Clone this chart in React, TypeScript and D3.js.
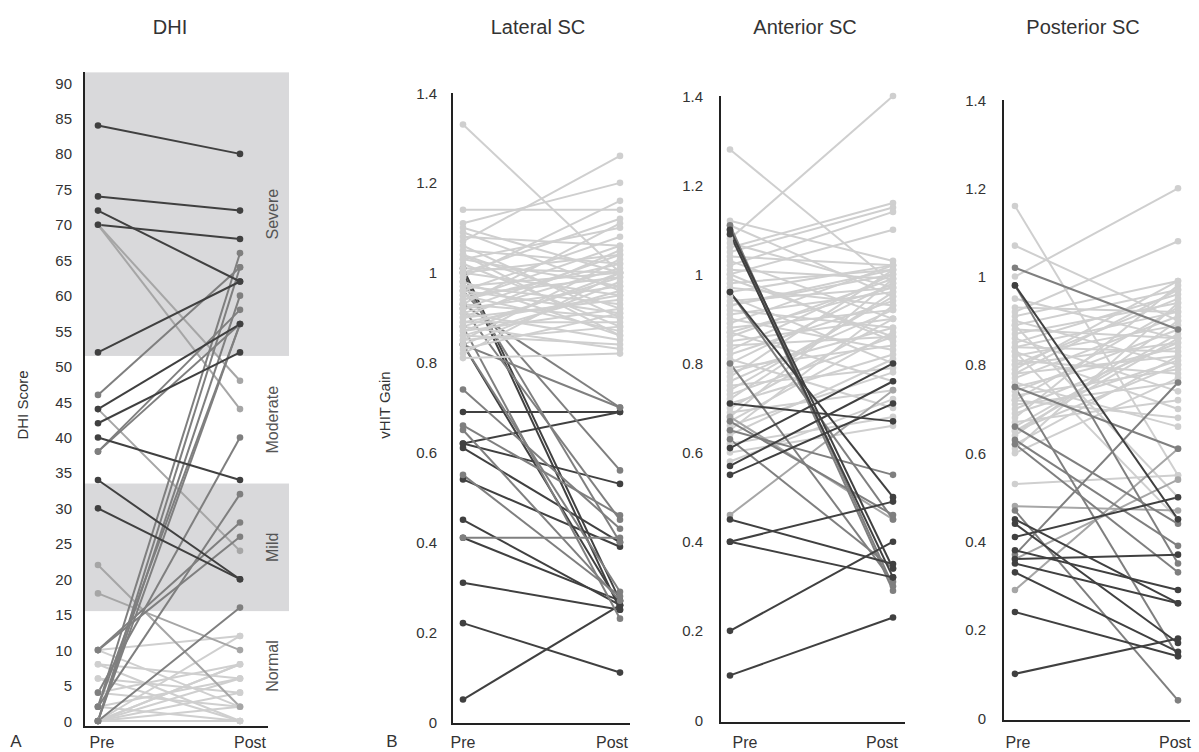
import React from "react";
import * as d3 from "d3";

// ---------- DATA ----------
const timepoints = ["Pre", "Post"];
const dhiTicks = [0, 5, 10, 15, 20, 25, 30, 35, 40, 45, 50, 55, 60, 65, 70, 75, 80, 85, 90];
const gainTicks = [0, 0.2, 0.4, 0.6, 0.8, 1, 1.2, 1.4];
const dhiBands = [
  { label: "Normal", from: 0, to: 15.5, shade: false },
  { label: "Mild", from: 15.5, to: 33.5, shade: true },
  { label: "Moderate", from: 33.5, to: 51.5, shade: false },
  { label: "Severe", from: 51.5, to: 91.5, shade: true },
];

// DHI: pre, post, group
const dhiPre = [84, 74, 72, 70, 52, 44, 42, 40, 34, 30,
  46, 38, 38, 10, 10, 2, 0, 2, 0, 0, 4, 2, 0,
  70, 70, 44, 22, 18,
  10, 10, 8, 6, 4, 4, 2, 0, 0, 0, 0, 0, 0, 0, 2, 6, 8];
const dhiPost = [80, 72, 62, 68, 62, 56, 52, 34, 20, 20,
  64, 56, 58, 26, 28, 66, 60, 56, 64, 56, 40, 32, 16,
  48, 44, 24, 2, 10,
  12, 2, 0, 4, 8, 2, 6, 12, 8, 8, 6, 4, 2, 0, 0, 0, 6];
const dhiGroup = ["d", "d", "d", "d", "d", "d", "d", "d", "d", "d",
  "m", "m", "m", "m", "m", "m", "m", "m", "m", "m", "m", "m", "m",
  "l", "l", "l", "l", "l",
  "x", "x", "x", "x", "x", "x", "x", "x", "x", "x", "x", "x", "x", "x", "x", "x", "x"];

// Lateral SC
const latPre = [1.01, 1.00, 0.69, 0.62, 0.62, 0.61, 0.54, 0.45, 0.41, 0.31, 0.22, 0.05, 0.84,
  0.98, 0.96, 0.93, 0.84, 0.84, 0.74, 0.66, 0.65, 0.55, 0.88, 0.92, 0.41,
  1.33, 1.14, 1.11, 1.09, 1.08, 1.07, 1.06, 1.05, 1.04, 1.03, 1.02, 1.01, 1.00, 1.00, 0.99, 0.98, 0.97, 0.97, 0.96, 0.95, 0.95, 0.94, 0.93, 0.93, 0.92, 0.91, 0.91, 0.90, 0.90, 0.89, 0.88, 0.88, 0.87, 0.87, 0.86, 0.85, 0.85, 0.84, 0.83, 0.82, 0.81, 1.10, 1.04, 1.00, 0.96, 0.92, 0.89, 0.86, 1.03, 0.94];
const latPost = [0.27, 0.25, 0.69, 0.69, 0.53, 0.40, 0.39, 0.26, 0.27, 0.25, 0.11, 0.26, 0.26,
  0.40, 0.56, 0.70, 0.29, 0.70, 0.43, 0.46, 0.27, 0.28, 0.23, 0.45, 0.41,
  1.00, 1.14, 1.20, 0.96, 1.06, 1.26, 0.90, 1.02, 0.92, 1.10, 0.88, 1.00, 1.04, 0.95, 1.16, 0.86, 1.00, 0.93, 1.08, 0.99, 0.87, 1.02, 0.90, 1.11, 0.97, 0.85, 1.01, 0.94, 1.05, 0.89, 0.99, 0.83, 1.00, 0.92, 0.96, 1.03, 0.88, 0.98, 0.91, 1.00, 0.82, 1.00, 0.86, 1.12, 0.91, 1.04, 0.95, 0.84, 0.97, 1.06];
const latGroup = ["d", "d", "d", "d", "d", "d", "d", "d", "d", "d", "d", "d", "d",
  "m", "m", "m", "m", "m", "m", "m", "m", "m", "m", "m", "m",
  ...Array(50).fill("x")];

// Anterior SC
const antPre = [1.28, 1.08, 1.12, 1.11, 1.06, 1.05, 1.04, 1.03, 1.02, 1.01, 1.00, 0.99, 0.98, 0.97, 0.96, 0.95, 0.94, 0.93, 0.92, 0.91, 0.90, 0.89, 0.88, 0.87, 0.86, 0.85, 0.84, 0.83, 0.82, 0.81, 0.80, 0.79, 0.78, 0.77, 0.76, 0.75, 0.74, 0.73, 0.72, 0.71, 0.70, 0.69, 0.68, 0.67, 0.66, 0.65, 0.64, 0.62, 0.60, 0.58, 1.07, 0.93, 0.87, 1.00,
  0.46, 0.68,
  1.11, 1.10, 0.96, 0.80, 0.67, 0.65, 0.63,
  1.10, 1.09, 0.96, 0.71, 0.61, 0.57, 0.55, 0.45, 0.40, 0.40, 0.20, 0.10];
const antPost = [0.98, 1.40, 1.03, 0.95, 1.16, 1.15, 1.02, 0.90, 1.14, 0.99, 1.10, 0.86, 1.01, 0.93, 1.02, 0.80, 0.97, 1.00, 0.88, 0.96, 0.83, 1.02, 0.92, 0.76, 0.99, 0.90, 0.86, 1.00, 0.94, 0.70, 0.98, 0.84, 0.88, 1.01, 0.92, 0.79, 0.95, 0.86, 0.96, 0.82, 0.90, 0.74, 0.99, 0.87, 0.78, 0.93, 0.81, 0.68, 0.66, 0.72, 0.97, 1.01, 0.97, 0.85,
  0.74, 0.45,
  0.30, 0.29, 0.45, 0.31, 0.46, 0.55, 0.34,
  0.34, 0.32, 0.50, 0.67, 0.80, 0.76, 0.71, 0.35, 0.49, 0.32, 0.40, 0.23];
const antGroup = [...Array(54).fill("x"), "l", "l",
  "m", "m", "m", "m", "m", "m", "m",
  "d", "d", "d", "d", "d", "d", "d", "d", "d", "d", "d", "d"];

// Posterior SC
const postPre = [1.16, 1.07, 1.00, 0.93, 0.92, 0.91, 0.90, 0.89, 0.88, 0.87, 0.86, 0.85, 0.84, 0.84, 0.83, 0.82, 0.81, 0.80, 0.80, 0.79, 0.78, 0.77, 0.76, 0.75, 0.74, 0.73, 0.72, 0.71, 0.70, 0.69, 0.68, 0.67, 0.66, 0.65, 0.64, 0.62, 0.61, 0.60, 0.53, 0.89, 0.95, 0.83, 0.78, 0.72, 0.65,
  0.29, 0.48, 0.36,
  1.02, 0.98, 0.75, 0.63, 0.62, 0.66, 0.47, 0.37, 0.75,
  0.98, 0.45, 0.41, 0.38, 0.36, 0.35, 0.33, 0.24, 0.10, 0.44];
const postPost = [0.55, 0.90, 1.20, 0.92, 1.08, 0.99, 0.80, 0.97, 0.86, 0.94, 0.74, 0.96, 0.83, 0.92, 0.70, 0.89, 0.78, 0.95, 0.85, 0.99, 0.82, 0.91, 0.66, 0.84, 0.88, 0.79, 0.93, 0.76, 0.85, 0.81, 0.98, 0.72, 0.87, 0.80, 0.90, 0.82, 0.94, 0.77, 0.55, 0.50, 0.86, 0.45, 0.97, 0.68, 0.86,
  0.61, 0.47, 0.54,
  0.88, 0.35, 0.14, 0.39, 0.33, 0.44, 0.04, 0.76, 0.61,
  0.45, 0.26, 0.50, 0.29, 0.37, 0.26, 0.15, 0.14, 0.18, 0.17];
const postGroup = [...Array(45).fill("x"), "l", "l", "l",
  "m", "m", "m", "m", "m", "m", "m", "m", "m",
  "d", "d", "d", "d", "d", "d", "d", "d", "d", "d"];

// ---------- STYLE ----------
const colors: Record<string, string> = { d: "#404040", m: "#7f7f7f", l: "#a6a6a6", x: "#cfcfcf" };
const font = "'Liberation Sans', Arial, sans-serif";

type PanelProps = {
  title: string; titleX: number;
  pre: number[]; post: number[]; group: string[];
  domain: [number, number]; yBottom: number; yTop: number;
  axisX: number; axisTop: number; axisBottom: number; axisEnd: number;
  preX: number; postX: number; preLabelX: number; postLabelX: number;
  ticks: number[]; tickX: number;
  bands?: typeof dhiBands; bandRight?: number;
  order: string[];
};

function Panel(p: PanelProps) {
  const y = d3.scaleLinear().domain(p.domain).range([p.yBottom, p.yTop]);
  const x = d3.scalePoint<string>().domain(timepoints).range([p.preX, p.postX]);
  const idx = d3.range(p.pre.length);
  const ordered = p.order.flatMap((g) => idx.filter((i) => p.group[i] === g));
  const fmt = (v: number) => d3.format("~g")(v);
  return (
    <g>
      <text x={p.titleX} y={34} textAnchor="middle" fontFamily={font} fontSize={20} fill="#333">{p.title}</text>
      {p.bands && p.bands.map((b) => (
        <g key={b.label}>
          {b.shade && (
            <rect x={p.axisX} width={(p.bandRight || 0) - p.axisX} y={y(b.to)} height={y(b.from) - y(b.to)} fill="#d9d9db" />
          )}
          <text transform={`translate(${(p.bandRight || 0) - 17},${(y(b.from) + y(b.to)) / 2}) rotate(-90)`}
            textAnchor="middle" dominantBaseline="central" fontFamily={font} fontSize={16} fill="#555">{b.label}</text>
        </g>
      ))}
      {ordered.map((i) => (
        <line key={"l" + i} x1={x("Pre")} x2={x("Post")} y1={y(p.pre[i])} y2={y(p.post[i])}
          stroke={colors[p.group[i]]} strokeWidth={2} />
      ))}
      {ordered.map((i) => (
        <g key={"c" + i} fill={colors[p.group[i]]}>
          <circle cx={x("Pre")} cy={y(p.pre[i])} r={3.3} />
          <circle cx={x("Post")} cy={y(p.post[i])} r={3.3} />
        </g>
      ))}
      <line x1={p.axisX} x2={p.axisX} y1={p.axisTop} y2={p.axisBottom} stroke="#222" strokeWidth={2} />
      <line x1={p.axisX - 1} x2={p.axisEnd} y1={p.axisBottom} y2={p.axisBottom} stroke="#222" strokeWidth={2} />
      {p.ticks.map((t) => (
        <text key={t} x={p.tickX} y={y(t)} textAnchor="end" dominantBaseline="central" fontFamily={font} fontSize={15} fill="#333">{fmt(t)}</text>
      ))}
      <text x={p.preLabelX} y={742} textAnchor="middle" dominantBaseline="central" fontFamily={font} fontSize={16} fill="#333">Pre</text>
      <text x={p.postLabelX} y={742} textAnchor="middle" dominantBaseline="central" fontFamily={font} fontSize={16} fill="#333">Post</text>
    </g>
  );
}

export default function App() {
  return (
    <svg width={1199} height={752} style={{ position: "absolute", left: 0, top: 0, background: "#fff" }}>
      <Panel title="DHI" titleX={170} pre={dhiPre} post={dhiPost} group={dhiGroup}
        domain={[0, 90]} yBottom={721} yTop={83} axisX={84} axisTop={72} axisBottom={727} axisEnd={268}
        preX={98} postX={240} preLabelX={102} postLabelX={250} ticks={dhiTicks} tickX={72}
        bands={dhiBands} bandRight={289} order={["x", "l", "m", "d"]} />
      <Panel title="Lateral SC" titleX={538} pre={latPre} post={latPost} group={latGroup}
        domain={[0, 1.4]} yBottom={722} yTop={93} axisX={452} axisTop={93} axisBottom={724} axisEnd={630}
        preX={463} postX={620} preLabelX={463} postLabelX={612} ticks={gainTicks} tickX={437}
        order={["d", "m", "l", "x"]} />
      <Panel title="Anterior SC" titleX={805} pre={antPre} post={antPost} group={antGroup}
        domain={[0, 1.4]} yBottom={720} yTop={96} axisX={720} axisTop={96} axisBottom={723} axisEnd={905}
        preX={730} postX={893} preLabelX={745} postLabelX={882} ticks={gainTicks} tickX={703}
        order={["x", "l", "m", "d"]} />
      <Panel title="Posterior SC" titleX={1083} pre={postPre} post={postPost} group={postGroup}
        domain={[0, 1.4]} yBottom={718} yTop={100} axisX={1003} axisTop={100} axisBottom={721} axisEnd={1190}
        preX={1015} postX={1178} preLabelX={1018} postLabelX={1175} ticks={gainTicks} tickX={986}
        order={["x", "l", "m", "d"]} />
      <text transform="translate(22,405) rotate(-90)" textAnchor="middle" dominantBaseline="central" fontFamily={font} fontSize={15} fill="#333">DHI Score</text>
      <text transform="translate(384,405) rotate(-90)" textAnchor="middle" dominantBaseline="central" fontFamily={font} fontSize={15} fill="#333">vHIT Gain</text>
      <text x={16} y={741} textAnchor="middle" dominantBaseline="central" fontFamily={font} fontSize={17} fill="#333">A</text>
      <text x={392} y={741} textAnchor="middle" dominantBaseline="central" fontFamily={font} fontSize={17} fill="#333">B</text>
    </svg>
  );
}
